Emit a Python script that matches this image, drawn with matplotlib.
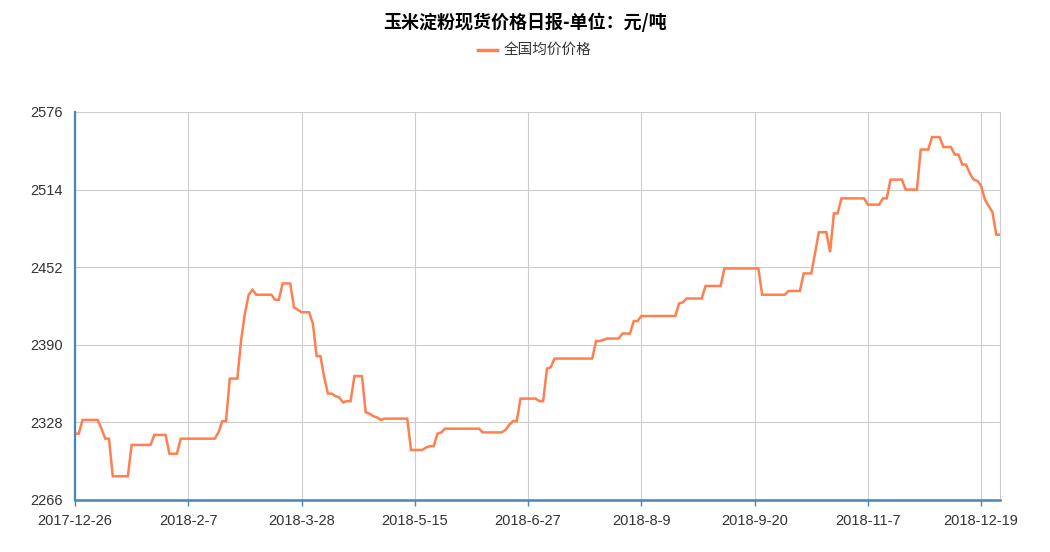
import matplotlib
matplotlib.use("Agg")
import matplotlib.pyplot as plt
from matplotlib.lines import Line2D
import numpy as np

plt.rcParams['font.family'] = ['Liberation Sans', 'Noto Sans CJK SC', 'DejaVu Sans']

title = "玉米淀粉现货价格日报-单位：元/吨"
series_name = "全国均价价格"

# x tick labels (every 30th trading day)
tick_labels = ["2017-12-26", "2018-2-7", "2018-3-28", "2018-5-15", "2018-6-27",
               "2018-8-9", "2018-9-20", "2018-11-7", "2018-12-19"]
tick_step = 30

y_ticks = [2266, 2328, 2390, 2452, 2514, 2576]

# daily national average price (yuan/ton), one value per trading day
values = [
    2319, 2319, 2330, 2330, 2330, 2330, 2330, 2323, 2315, 2315,
    2285, 2285, 2285, 2285, 2285, 2310, 2310, 2310, 2310, 2310,
    2310, 2318, 2318, 2318, 2318, 2303, 2303, 2303, 2315, 2315,
    2315, 2315, 2315, 2315, 2315, 2315, 2315, 2315, 2320, 2329,
    2329, 2363, 2363, 2363, 2394, 2415, 2430, 2434, 2430, 2430,
    2430, 2430, 2430, 2426, 2426, 2439, 2439, 2439, 2420, 2418,
    2416, 2416, 2416, 2407, 2381, 2381, 2364, 2351, 2351, 2349,
    2348, 2344, 2345, 2345, 2365, 2365, 2365, 2336, 2335, 2333,
    2332, 2330, 2331, 2331, 2331, 2331, 2331, 2331, 2331, 2306,
    2306, 2306, 2306, 2308, 2309, 2309, 2319, 2320, 2323, 2323,
    2323, 2323, 2323, 2323, 2323, 2323, 2323, 2323, 2320, 2320,
    2320, 2320, 2320, 2320, 2322, 2326, 2329, 2329, 2347, 2347,
    2347, 2347, 2347, 2345, 2345, 2371, 2372, 2379, 2379, 2379,
    2379, 2379, 2379, 2379, 2379, 2379, 2379, 2379, 2393, 2393,
    2394, 2395, 2395, 2395, 2395, 2399, 2399, 2399, 2409, 2409,
    2413, 2413, 2413, 2413, 2413, 2413, 2413, 2413, 2413, 2413,
    2423, 2424, 2427, 2427, 2427, 2427, 2427, 2437, 2437, 2437,
    2437, 2437, 2451, 2451, 2451, 2451, 2451, 2451, 2451, 2451,
    2451, 2451, 2430, 2430, 2430, 2430, 2430, 2430, 2430, 2433,
    2433, 2433, 2433, 2447, 2447, 2447, 2463, 2480, 2480, 2480,
    2464, 2495, 2495, 2507, 2507, 2507, 2507, 2507, 2507, 2507,
    2502, 2502, 2502, 2502, 2507, 2507, 2522, 2522, 2522, 2522,
    2514, 2514, 2514, 2514, 2546, 2546, 2546, 2556, 2556, 2556,
    2548, 2548, 2548, 2542, 2542, 2534, 2534, 2527, 2522, 2521,
    2517, 2506, 2501, 2496, 2478, 2478,
]

line_color = '#ff7f50'
axis_color = '#4488bb'
grid_color = '#cccccc'
text_color = '#333333'

W, H = 1050, 552
fig = plt.figure(figsize=(W / 100, H / 100), dpi=100)
ax = fig.add_axes([75 / W, 52 / H, 925 / W, 388 / H])

x = np.arange(len(values))
ax.plot(x, values, color=line_color, lw=1.8, solid_joinstyle='miter', zorder=3)

ax.set_xlim(0, len(values) - 1)
ax.set_ylim(y_ticks[0], y_ticks[-1])
ax.set_yticks(y_ticks)
ax.set_yticklabels([str(v) for v in y_ticks])
ax.set_xticks(np.arange(0, len(values), tick_step)[:len(tick_labels)])
ax.set_xticklabels(tick_labels)

ax.grid(True, color=grid_color, lw=0.8, zorder=0)
ax.set_axisbelow(True)

ax.spines['top'].set_visible(False)
ax.spines['right'].set_color(grid_color)
ax.spines['right'].set_linewidth(0.8)
ax.spines['left'].set_color(axis_color)
ax.spines['left'].set_linewidth(1.6)
ax.spines['bottom'].set_color(axis_color)
ax.spines['bottom'].set_linewidth(1.8)
ax.spines['left'].set_zorder(4)
ax.spines['bottom'].set_zorder(4)

ax.tick_params(axis='y', length=0, pad=9, labelsize=10.5, labelcolor=text_color)
ax.tick_params(axis='x', length=4, width=1, color=axis_color, direction='out',
               pad=6, labelsize=10.5, labelcolor=text_color)

fig.text(0.5, 1 - 22 / H, title, ha='center', va='center', fontsize=13,
         fontweight='bold', color='#000000', family=['Noto Sans CJK SC', 'DejaVu Sans'])

fig.add_artist(Line2D([478 / W, 497 / W], [1 - 50 / H, 1 - 50 / H],
                      color=line_color, lw=2.5, transform=fig.transFigure))
fig.text(504 / W, 1 - 50 / H, series_name, ha='left', va='center', fontsize=10.5,
         color=text_color, family=['Noto Sans CJK SC', 'DejaVu Sans'])

fig.savefig('out.png', dpi=100)
